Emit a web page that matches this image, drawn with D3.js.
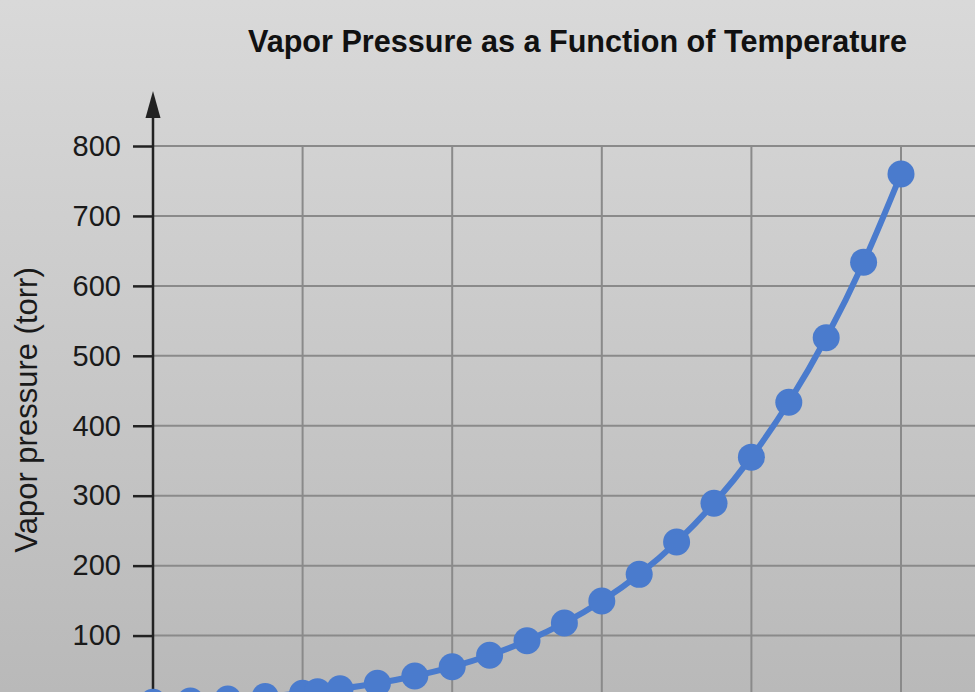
<!DOCTYPE html>
<html>
<head>
<meta charset="utf-8">
<script src="https://cdn.jsdelivr.net/npm/d3@7"></script>
<style>
  html, body { margin: 0; padding: 0; overflow: hidden; }
  svg { display: block; font-family: "Liberation Sans", Arial, sans-serif; }
</style>
</head>
<body>
<svg id="chart" width="975" height="692"></svg>
<script>
const temperatures = [0, 5, 10, 15, 20, 22, 25, 30, 35, 40, 45, 50, 55, 60, 65, 70, 75, 80, 85, 90, 95, 100]
const pressures = [4.6, 6.5, 9.2, 12.8, 17.5, 19.8, 23.8, 31.8, 42.2, 55.3, 71.9, 92.5, 118.0, 149.4, 187.5, 233.7, 289.1, 355.1, 433.6, 525.8, 633.9, 760.0]
const yTicks = [100, 200, 300, 400, 500, 600, 700, 800]
const xGrid = [20, 40, 60, 80, 100]

const width = 975
const height = 692
const title = 'Vapor Pressure as a Function of Temperature'
const yLabel = 'Vapor pressure (torr)'

const svg = d3.select('#chart')

const defs = svg.append('defs')
const grad = defs.append('linearGradient').attr('id', 'bg')
  .attr('x1', 0).attr('y1', 0).attr('x2', 0).attr('y2', 1)
grad.append('stop').attr('offset', '0%').attr('stop-color', '#d9d9d9')
grad.append('stop').attr('offset', '100%').attr('stop-color', '#b9b9b9')

svg.append('rect').attr('width', width).attr('height', height).attr('fill', 'url(#bg)')

const x = d3.scaleLinear().domain([0, 100]).range([153, 901])
const y = d3.scaleLinear().domain([0, 800]).range([705.5, 146])

// grid
svg.append('g').selectAll('line').data(yTicks).enter().append('line')
  .attr('x1', x(0)).attr('x2', width)
  .attr('y1', d => y(d)).attr('y2', d => y(d))
  .attr('stroke', '#8a8a8a').attr('stroke-width', 2)

svg.append('g').selectAll('line').data(xGrid).enter().append('line')
  .attr('x1', d => x(d)).attr('x2', d => x(d))
  .attr('y1', y(800)).attr('y2', height)
  .attr('stroke', '#8a8a8a').attr('stroke-width', 2)

// y axis
const yAxis = svg.append('g').attr('transform', `translate(${x(0)},0)`)
  .call(d3.axisLeft(y).tickValues(yTicks).tickSize(20).tickPadding(12))
yAxis.select('.domain').remove()
yAxis.selectAll('.tick line').attr('stroke', '#222').attr('stroke-width', 2.5)
yAxis.selectAll('.tick text').attr('fill', '#1a1a1a')
  .style('font-size', '29px').style('font-family', '"Liberation Sans", Arial, sans-serif')

svg.append('line').attr('x1', x(0)).attr('x2', x(0))
  .attr('y1', 112).attr('y2', height)
  .attr('stroke', '#222').attr('stroke-width', 2.5)
svg.append('path').attr('d', `M${x(0)},91 L${x(0) - 7.5},118 L${x(0) + 7.5},118 Z`).attr('fill', '#222')

// title and y label
svg.append('text').attr('x', 577.5).attr('y', 52)
  .attr('text-anchor', 'middle').style('font-size', '30.6px').style('font-weight', 'bold')
  .attr('fill', '#111').text(title)

svg.append('text').attr('transform', 'translate(37,410) rotate(-90)')
  .attr('text-anchor', 'middle').style('font-size', '31px')
  .attr('fill', '#1a1a1a').text(yLabel)

// series
const points = temperatures.map((t, i) => ({ t, p: pressures[i] }))
const line = d3.line().x(d => x(d.t)).y(d => y(d.p)).curve(d3.curveMonotoneX)

svg.append('path').datum(points).attr('d', line)
  .attr('fill', 'none').attr('stroke', '#4a7bcd').attr('stroke-width', 6)

svg.append('g').selectAll('circle').data(points).enter().append('circle')
  .attr('cx', d => x(d.t)).attr('cy', d => y(d.p)).attr('r', 13.5)
  .attr('fill', '#4a7bcd')
</script>
</body>
</html>
